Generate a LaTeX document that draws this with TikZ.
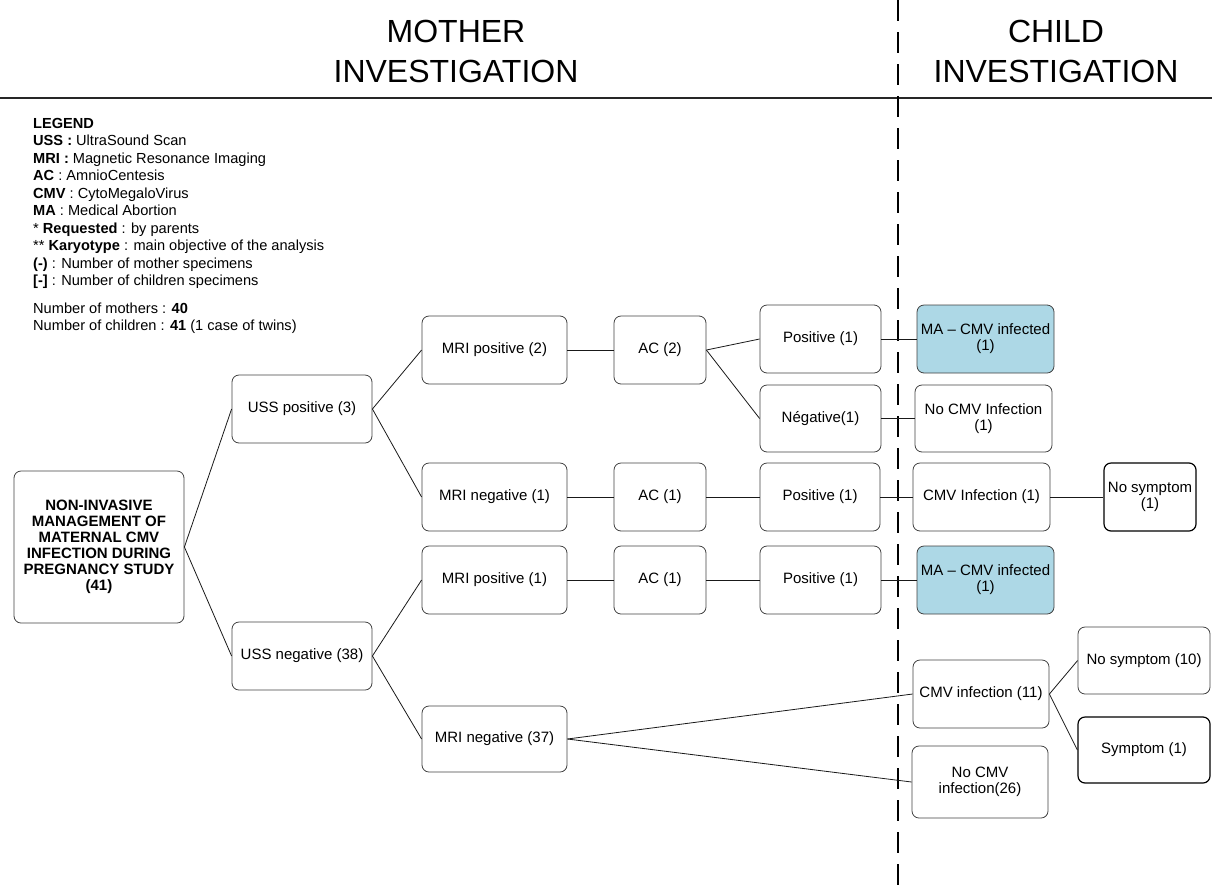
\documentclass[tikz,border=0pt]{standalone}
\usepackage{fontspec}
\setmainfont{Liberation Sans}
\definecolor{mablue}{HTML}{ADD8E6}
\begin{document}
\begin{tikzpicture}[x=1pt,y=-1pt,
  box/.style 2 args={draw=black!75, line width=0.8pt, rounded corners=7pt, align=center, inner sep=0pt,
    minimum width=#1, minimum height=#2, font=\fontsize{15}{16}\selectfont},
  strong/.style={draw=black, line width=1.2pt},
  link/.style={line width=0.8pt, black!90},
  head/.style={align=center, inner sep=0pt, font=\fontsize{32}{40}\selectfont}]
\useasboundingbox (0,0) rectangle (1212,892);
\node[head] (mother) at (456,51.5) {MOTHER\\INVESTIGATION};
\node[head] (child) at (1056,51.5) {CHILD\\INVESTIGATION};
\draw[line width=2.5pt, black!85] (0,98) -- (1212,98);
\draw[line width=2.5pt, dash pattern=on 21pt off 11pt] (898,0) -- (898,892);
\node[anchor=north west, align=left, inner sep=0pt, font=\fontsize{14.6}{17.5}\selectfont] (legend) at (33,118) {%
\textbf{LEGEND}\\
\textbf{USS :} UltraSound Scan\\
\textbf{MRI :} Magnetic Resonance Imaging\\
\textbf{AC} : AmnioCentesis\\
\textbf{CMV} : CytoMegaloVirus\\
\textbf{MA} : Medical Abortion\\
* \textbf{Requested} : by parents\\
** \textbf{Karyotype} : main objective of the analysis\\
\textbf{(-)} : Number of mother specimens\\
\textbf{[-]} : Number of children specimens\\[10pt]
Number of mothers : \textbf{40}\\
Number of children : \textbf{41} (1 case of twins)};
\node[box={170}{152}, font=\fontsize{15}{16}\selectfont\bfseries] (root) at (99,547)
  {NON-INVASIVE\\MANAGEMENT OF\\MATERNAL CMV\\INFECTION DURING\\PREGNANCY STUDY\\(41)};
\node[box={140}{68}] (usp) at (302,409) {USS positive (3)};
\node[box={140}{68}] (usn) at (302,656) {USS negative (38)};
\node[box={145}{68}] (mrip2) at (494.5,350) {MRI positive (2)};
\node[box={145}{68}] (mrin1) at (494.5,497) {MRI negative (1)};
\node[box={145}{68}] (mrip1) at (494.5,580) {MRI positive (1)};
\node[box={145}{66}] (mrin37) at (494.5,739) {MRI negative (37)};
\node[box={92}{68}] (ac2) at (660,350) {AC (2)};
\node[box={92}{68}] (ac1a) at (660,497) {AC (1)};
\node[box={92}{68}] (ac1b) at (660,580) {AC (1)};
\node[box={121}{68}] (pos1) at (820.5,339) {Positive (1)};
\node[box={121}{67}] (neg1) at (820.5,418.5) {Négative(1)};
\node[box={120}{68}] (pos2) at (820,497) {Positive (1)};
\node[box={121}{68}] (pos3) at (820.5,580) {Positive (1)};
\node[box={137}{68}, fill=mablue] (ma1) at (985.5,339) {MA – CMV infected\\(1)};
\node[box={137}{67}] (nocmv1) at (983.5,418.5) {No CMV Infection\\(1)};
\node[box={137}{68}] (cmv1) at (981.5,497) {CMV Infection (1)};
\node[box={92}{68}, strong] (nosym1) at (1150,497) {No symptom\\(1)};
\node[box={137}{68}, fill=mablue] (ma2) at (985.5,580) {MA – CMV infected\\(1)};
\node[box={136}{68}] (cmv11) at (981,694) {CMV infection (11)};
\node[box={136}{72}] (nocmv26) at (980,782) {No CMV\\infection(26)};
\node[box={132}{67}] (nosym10) at (1144,660.5) {No symptom (10)};
\node[box={132}{66}, strong] (sym1) at (1144,750) {Symptom (1)};
\foreach \a/\b in {root/usp, root/usn, usp/mrip2, usp/mrin1, usn/mrip1, usn/mrin37,
  mrip2/ac2, mrin1/ac1a, mrip1/ac1b, ac2/pos1, ac2/neg1, ac1a/pos2, ac1b/pos3,
  pos1/ma1, neg1/nocmv1, pos2/cmv1, pos3/ma2, cmv1/nosym1,
  mrin37/cmv11, mrin37/nocmv26, cmv11/nosym10, cmv11/sym1}
  {\draw[link] (\a.east) -- (\b.west);}
\end{tikzpicture}
\end{document}
